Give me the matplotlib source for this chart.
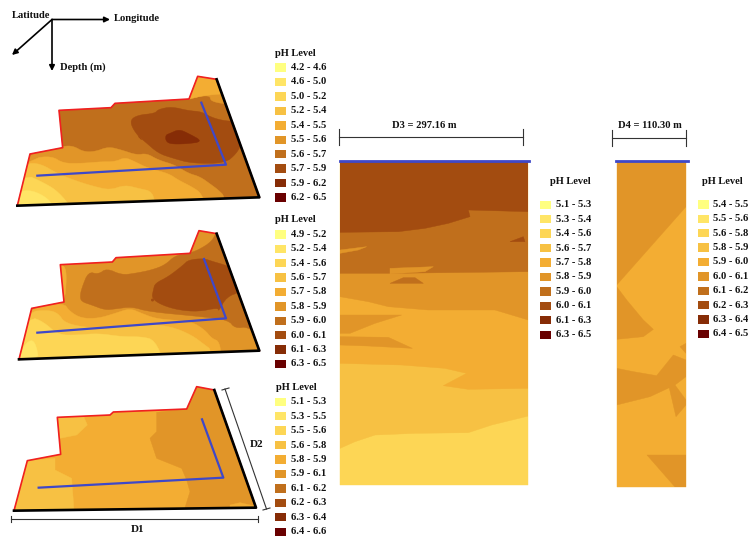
import matplotlib
matplotlib.use("Agg")
import matplotlib.pyplot as plt
from matplotlib.patches import Polygon, Rectangle, Circle

# pH classes, light to dark
colors = ["#FFFF80", "#FFE566", "#FDD655", "#F7C143", "#F3AD33",
          "#E19528", "#C06F1C", "#A34C10", "#862C06", "#690000"]

labels_1 = ["4.2 - 4.6", "4.6 - 5.0", "5.0 - 5.2", "5.2 - 5.4", "5.4 - 5.5",
            "5.5 - 5.6", "5.6 - 5.7", "5.7 - 5.9", "5.9 - 6.2", "6.2 - 6.5"]
labels_2 = ["4.9 - 5.2", "5.2 - 5.4", "5.4 - 5.6", "5.6 - 5.7", "5.7 - 5.8",
            "5.8 - 5.9", "5.9 - 6.0", "6.0 - 6.1", "6.1 - 6.3", "6.3 - 6.5"]
labels_3 = ["5.1 - 5.3", "5.3 - 5.5", "5.5 - 5.6", "5.6 - 5.8", "5.8 - 5.9",
            "5.9 - 6.1", "6.1 - 6.2", "6.2 - 6.3", "6.3 - 6.4", "6.4 - 6.6"]
labels_d3 = ["5.1 - 5.3", "5.3 - 5.4", "5.4 - 5.6", "5.6 - 5.7", "5.7 - 5.8",
             "5.8 - 5.9", "5.9 - 6.0", "6.0 - 6.1", "6.1 - 6.3", "6.3 - 6.5"]
labels_d4 = ["5.4 - 5.5", "5.5 - 5.6", "5.6 - 5.8", "5.8 - 5.9", "5.9 - 6.0",
             "6.0 - 6.1", "6.1 - 6.2", "6.2 - 6.3", "6.3 - 6.4", "6.4 - 6.5"]


def crop(pts, x0, y0):
    # traced points are pixels x 3 measured from a crop corner
    return [(x0 + x / 3, y0 + y / 3) for x, y in pts]


def a1(pts):
    return crop(pts, 15, 130)


def c1(pts):
    return crop(pts, 55, 70)


def b2(pts):
    return crop(pts, 15, 285)


def d2(pts):
    return crop(pts, 55, 225)


outline_1 = crop([(52, 617), (90, 462), (188, 443), (177, 331), (333, 323), (345, 310),
                  (567, 297), (593, 229), (650, 238), (778, 592)], 0, 0)
line_1 = crop([(112, 527), (678, 494), (604, 308)], 0, 0)
zones_1 = [
    (5, a1([(40, 68), (145, 48), (175, 48), (205, 65), (240, 65), (280, 50), (320, 60), (365, 75),
            (395, 70), (430, 90), (480, 105), (520, 130), (555, 140), (590, 165), (610, 180),
            (630, 200), (620, 240), (-300, 300)])),
    (4, a1([(50, 85), (110, 78), (145, 100), (200, 100), (260, 95), (300, 95), (330, 82),
            (360, 95), (400, 115), (460, 130), (490, 150), (530, 170), (560, 190), (575, 240),
            (-300, 300)])),
    (3, a1([(30, 100), (75, 100), (130, 132), (190, 155), (240, 170), (285, 180), (330, 165),
            (370, 175), (415, 185), (420, 240), (-300, 300)])),
    (2, a1([(25, 130), (90, 160), (130, 185), (175, 240), (-300, 300)])),
    (1, a1([(10, 185), (50, 180), (100, 205), (120, 240), (-300, 300)])),
    (7, c1([(225, 150), (250, 135), (300, 130), (310, 118), (350, 110), (400, 122), (440, 125),
            (475, 145), (525, 155), (560, 150), (600, 260)])
        + a1([(680, 40), (665, 70), (630, 100), (530, 100), (475, 85), (430, 70), (390, 35),
              (365, 15)])
        + c1([(265, 215), (235, 180)])),
    (8, c1([(332, 195), (345, 190), (372, 178), (400, 190), (445, 215), (390, 222), (345, 222),
            (332, 212)])),
    (5, c1([(412, 85), (440, 78), (465, 78), (467, 92), (495, 100), (530, 102), (560, -30),
            (390, -30)])),
    (4, c1([(395, 90), (412, 85), (440, 78), (465, 75), (520, 70), (560, -30), (390, -30)])),
]

outline_2 = crop([(57, 433), (95, 280), (192, 261), (181, 149), (337, 141), (348, 128),
                  (570, 115), (597, 47), (650, 56), (778, 407)], 0, 215)
line_2 = crop([(112, 353), (678, 310), (612, 132)], 0, 215)
zones_2 = [
    (4, d2([(-10, 110), (30, 120), (35, 160), (28, 235), (-10, 245)])),
    (6, d2([(75, 215), (80, 190), (100, 140), (130, 148), (155, 130), (200, 150), (240, 145),
            (290, 135), (330, 120), (360, 92), (400, 85), (430, 75), (470, 50), (485, 20),
            (620, 20), (640, 260)])
        + b2([(735, 160), (700, 125), (660, 130), (640, 105), (560, 95), (400, 80), (350, 65),
              (300, 72), (270, 75), (230, 60), (200, 50)])),
    (7, d2([(295, 195), (300, 175), (340, 155), (385, 120), (400, 105), (445, 100), (475, 110),
            (510, 120), (560, 140), (560, 200), (515, 215), (490, 260)])
        + b2([(610, 68), (550, 80), (490, 75), (440, 60), (410, 40)])),
    (6, d2([(470, 90), (500, 88), (525, 105), (510, 112), (480, 105)])),
    (4, b2([(40, 70), (145, 52), (165, 80), (200, 100), (250, 100), (300, 85), (345, 70),
            (380, 85), (420, 100), (470, 105), (530, 110), (570, 135), (590, 160), (615, 170),
            (620, 240), (-300, 300)])),
    (3, b2([(40, 80), (100, 75), (130, 85), (150, 115), (230, 130), (300, 125), (390, 115),
            (470, 125), (530, 150), (570, 180), (590, 195), (570, 240), (-300, 300)])),
    (2, b2([(45, 95), (85, 110), (130, 150), (190, 150), (250, 145), (320, 155), (380, 155),
            (420, 165), (450, 240), (-300, 300)])),
    (1, b2([(10, 215), (35, 170), (60, 165), (75, 240), (-300, 300)])),
]

outline_3 = crop([(42, 407), (82, 257), (182, 238), (172, 127), (330, 120), (340, 111),
                  (560, 102), (590, 35), (643, 45), (768, 398)], 0, 375)
line_3 = crop([(116, 338), (670, 308), (606, 133)], 0, 375)
zones_3 = [
    (3, crop([(75, 257), (165, 250), (165, 285), (215, 310), (222, 405), (35, 412)], 0, 375)),
    (3, crop([(172, 122), (250, 122), (262, 150), (230, 180), (180, 190)], 0, 375)),
    (5, crop([(470, 112), (470, 170), (450, 190), (470, 250), (545, 280), (560, 315), (570, 350),
              (555, 398), (775, 400), (775, 30), (580, 30), (560, 102)], 0, 375)),
    (4, crop([(690, 390), (720, 383), (760, 392), (760, 398), (690, 400)], 0, 375)),
]

# Cross sections
rect_d3 = crop([(15, 125), (580, 125), (580, 1095), (15, 1095)], 335, 120)
zones_d3 = [
    (3, crop([(15, 125), (580, 125), (580, 888), (470, 915), (400, 938), (240, 940), (120, 945),
              (60, 965), (15, 985)], 335, 120)),
    (4, crop([(15, 125), (580, 125), (580, 805), (400, 808), (325, 797), (395, 760), (330, 745),
              (200, 735), (15, 730)], 335, 120)),
    (5, crop([(15, 125), (580, 125), (580, 600), (480, 570), (280, 570), (160, 560), (100, 545),
              (15, 530)], 335, 120)),
    (5, crop([(15, 585), (200, 585), (120, 610), (45, 640), (15, 640)], 335, 120)),
    (5, crop([(15, 650), (160, 652), (232, 685), (100, 678), (15, 675)], 335, 120)),
    (6, crop([(15, 125), (580, 125), (580, 455), (170, 460), (15, 460)], 335, 120)),
    (5, crop([(165, 445), (295, 440), (270, 455), (165, 462)], 335, 120)),
    (6, crop([(165, 490), (205, 473), (240, 473), (265, 490)], 335, 120)),
    (5, crop([(15, 390), (95, 380), (70, 390), (15, 400)], 335, 120)),
    (7, crop([(15, 125), (580, 125), (580, 275), (400, 270), (405, 290), (340, 310), (270, 325),
              (190, 335), (15, 337)], 335, 120)),
    (7, crop([(525, 365), (565, 350), (570, 365)], 335, 120)),
]

rect_d4 = crop([(50, 155), (258, 155), (258, 1130), (50, 1130)], 600, 110)
zones_d4 = [
    (5, crop([(50, 155), (258, 155), (258, 290), (50, 525)], 600, 110)),
    (5, crop([(50, 530), (80, 570), (130, 630), (160, 658), (130, 680), (50, 688)], 600, 110)),
    (5, crop([(50, 775), (100, 785), (170, 797), (220, 735), (258, 750), (258, 800), (225, 825),
              (150, 860), (50, 885)], 600, 110)),
    (5, crop([(240, 710), (258, 700), (258, 730)], 600, 110)),
    (5, crop([(207, 830), (225, 825), (258, 870), (258, 885), (228, 920)], 600, 110)),
    (5, crop([(142, 1035), (258, 1035), (258, 1130), (225, 1130)], 600, 110)),
]

font = dict(family="Liberation Serif", fontweight="bold", color="#111111")

fig = plt.figure(figsize=(7.53, 5.38), dpi=100)
ax = fig.add_axes([0, 0, 1, 1])
ax.set_xlim(0, 753)
ax.set_ylim(538, 0)
ax.axis("off")


def rounded(pts, n=2):
    # corner cutting, the traced zone edges are soft in the picture
    for _ in range(n):
        out = []
        for i, (x1, y1) in enumerate(pts):
            x2, y2 = pts[(i + 1) % len(pts)]
            out.append((0.75 * x1 + 0.25 * x2, 0.75 * y1 + 0.25 * y2))
            out.append((0.25 * x1 + 0.75 * x2, 0.25 * y1 + 0.75 * y2))
        pts = out
    return pts


def draw_zones(base, zones, outline, soft=False):
    clip = Polygon(outline, transform=ax.transData, fc=colors[base], ec=colors[base], lw=0.3)
    ax.add_patch(clip)
    for idx, pts in zones:
        if soft:
            pts = rounded(pts)
        p = Polygon(pts, fc=colors[idx], ec=colors[idx], lw=0.3)
        ax.add_patch(p)
        p.set_clip_path(clip)


def draw_map(base, zones, outline, line, soft=True):
    draw_zones(base, zones, outline, soft)
    xs, ys = zip(*outline)
    ax.plot(xs, ys, color="#F02020", lw=1.2)
    ax.plot([xs[-2], xs[-1], xs[0]], [ys[-2], ys[-1], ys[0]], color="black", lw=1.9)
    xs, ys = zip(*line)
    ax.plot(xs, ys, color="#3F48C8", lw=1.6)


def draw_legend(labels, title_x, title_y, sw_x, text_x, y0, step):
    ax.text(title_x, title_y, "pH Level", fontsize=7.5, va="center", **font)
    for i, lab in enumerate(labels):
        yc = y0 + i * step
        ax.add_patch(Rectangle((sw_x, yc - 4.2), 11, 8.4, fc=colors[i], ec="none"))
        ax.text(text_x, yc, lab, fontsize=7.6, va="center", **font)


def dim_h(x1, x2, y, cap):
    ax.plot([x1, x2], [y, y], color="#333333", lw=0.8)
    ax.plot([x1, x1], [y - cap, y + cap], color="#333333", lw=0.8)
    ax.plot([x2, x2], [y - cap, y + cap], color="#333333", lw=0.8)


# Three maps
draw_map(6, zones_1, outline_1, line_1)
draw_map(5, zones_2, outline_2, line_2)
draw_map(4, zones_3, outline_3, line_3, soft=False)
ax.add_patch(Circle((152.5, 300), 1.5, fc=colors[7], ec="none"))

# Cross sections
draw_zones(2, zones_d3, rect_d3)
draw_zones(4, zones_d4, rect_d4)
ax.plot([340, 529], [161.3, 161.3], color="#3F48C8", lw=2)
ax.plot([616, 688], [160.7, 160.7], color="#3F48C8", lw=2)

# Legends
draw_legend(labels_1, 275, 53, 275, 291, 67.5, 14.45)
draw_legend(labels_2, 275, 219, 275.5, 291, 234.3, 14.4)
draw_legend(labels_3, 276, 387, 275, 291, 401.7, 14.45)
draw_legend(labels_d3, 550, 182, 540, 556, 204.7, 14.45)
draw_legend(labels_d4, 702, 182, 698.5, 713.5, 204.3, 14.4)

# Orientation arrows
arrow = dict(arrowstyle="-|>", color="black", lw=1.2, mutation_scale=8, shrinkA=0, shrinkB=0)
ax.annotate("", xy=(110, 19.5), xytext=(52, 19.5), arrowprops=arrow)
ax.annotate("", xy=(52, 71), xytext=(52, 19.5), arrowprops=arrow)
ax.annotate("", xy=(12, 55), xytext=(52, 19.5), arrowprops=arrow)
ax.text(12, 15, "Latitude", fontsize=7.6, va="center", **font)
ax.text(113.5, 18.5, "Longitude", fontsize=7.6, va="center", **font)
ax.text(60, 67.5, "Depth (m)", fontsize=7.6, va="center", **font)

# Dimension lines
dim_h(11, 258, 518.7, 3)
ax.text(138, 529, "D1", fontsize=8, ha="center", va="center", **font)
ax.plot([225, 266.5], [389, 509], color="#333333", lw=0.8)
ax.plot([222, 229], [390, 388], color="#333333", lw=0.8)
ax.plot([263, 270], [510, 508], color="#333333", lw=0.8)
ax.text(256.5, 444.5, "D2", fontsize=8, ha="center", va="center", **font)
dim_h(339.5, 523, 137.3, 8)
ax.text(424, 125.5, "D3 = 297.16 m", fontsize=7.6, ha="center", va="center", **font)
dim_h(612, 686.5, 138.3, 8)
ax.text(650, 125.8, "D4 = 110.30 m", fontsize=7.6, ha="center", va="center", **font)

fig.savefig("out.png", dpi=100)
